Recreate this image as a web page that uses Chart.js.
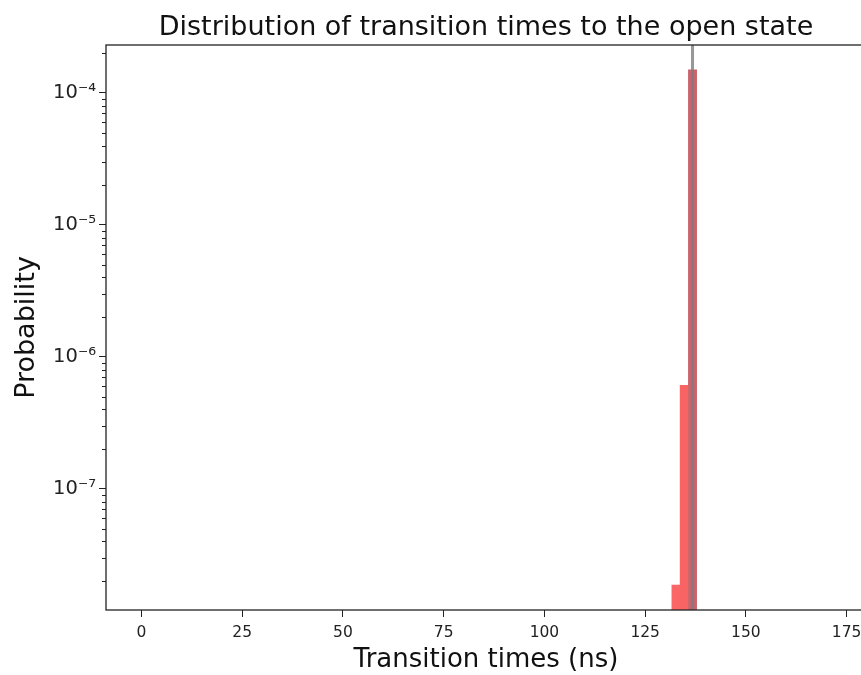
<!DOCTYPE html>
<html>
<head>
<meta charset="utf-8">
<script src="https://cdn.jsdelivr.net/npm/chart.js@4.4.0/dist/chart.umd.min.js"></script>
<style>
html,body{margin:0;padding:0;background:#fff;overflow:hidden;}
#box{width:861px;height:675px;overflow:hidden;}
</style>
</head>
<body>
<div id="box"><canvas id="chart0" width="880" height="675"></canvas></div>
<script>
// 直方图数据：分箱中心(ns)及概率
var binCenters = [132.65, 134.7, 136.75];
var probs = [1.87e-8, 6.1e-7, 1.5e-4];
var barColors = ['#fb6666', '#f86464', '#c9656e'];
var meanTime = 136.75;   // 灰色竖线位置
var xTicks = [0, 25, 50, 75, 100, 125, 150, 175];
var yMajor = [1e-7, 1e-6, 1e-5, 1e-4];
var yTickLabels = ['10⁻⁷', '10⁻⁶', '10⁻⁵', '10⁻⁴'];
var xRange = [-8.8, 179.8];
var yRange = [1.21e-8, 2.31e-4];
var chartTitle = 'Distribution of transition times to the open state';

var FONT = 'DejaVu Sans';

function majorIndex(v){
    for(var i=0;i<yMajor.length;i++){
        if(Math.abs(Math.log10(v) - Math.log10(yMajor[i])) < 1e-6) return i;
    }
    return -1;
}

// y轴刻度：主刻度 + 次刻度(2~9)
function yTickList(){
    var list = [];
    for(var e=-9;e<=-3;e++){
        for(var m=1;m<10;m++){
            var v = m*Math.pow(10,e);
            if(v>=yRange[0] && v<=yRange[1]) list.push(v);
        }
    }
    return list;
}

// 画外框、标题和y轴次刻度
var framePlugin = {
    id: 'frame',
    afterDraw: function(chart){
        var a = chart.chartArea, c = chart.ctx, s = chart.scales.y;
        c.save();
        c.strokeStyle = '#222';
        c.lineWidth = 1.3;
        c.strokeRect(a.left, a.top, a.right - a.left, a.bottom - a.top);
        c.lineWidth = 1;
        s.ticks.forEach(function(t){
            if(majorIndex(t.value) < 0){
                var py = Math.round(s.getPixelForValue(t.value)) + 0.5;
                c.beginPath();
                c.moveTo(a.left, py);
                c.lineTo(a.left - 4, py);
                c.stroke();
            }
        });
        // 标题按绘图区居中
        c.fillStyle = '#111';
        c.font = '27px "' + FONT + '"';
        c.textAlign = 'center';
        c.textBaseline = 'middle';
        c.fillText(chartTitle, (a.left + a.right) / 2, 28);
        c.restore();
    }
};

var barData = binCenters.map(function(x, i){ return {x: x, y: probs[i]}; });

var chart = new Chart(document.getElementById('chart0'), {
    data: {
        datasets: [{
            type: 'line',
            data: [{x: meanTime, y: yRange[0]}, {x: meanTime, y: yRange[1]}],
            borderColor: 'rgba(125,125,125,0.8)',
            borderWidth: 3,
            pointRadius: 0,
            order: 0
        }, {
            type: 'bar',
            data: barData,
            backgroundColor: barColors,
            borderWidth: 0,
            barPercentage: 1,
            categoryPercentage: 1,
            order: 1
        }]
    },
    options: {
        responsive: false,
        animation: false,
        events: [],
        layout: { padding: { left: 0, right: 14, top: 45, bottom: 0 } },
        plugins: {
            legend: { display: false },
            tooltip: { enabled: false },
            title: { display: false }
        },
        scales: {
            x: {
                type: 'linear',
                position: 'bottom',
                offset: false,
                min: xRange[0],
                max: xRange[1],
                afterBuildTicks: function(scale){
                    scale.ticks = xTicks.map(function(v){ return {value: v}; });
                },
                afterFit: function(scale){ scale.height = 65; },
                grid: { offset: false, drawOnChartArea: false, drawTicks: true, tickLength: 7, tickColor: '#222', tickWidth: 1 },
                border: { display: false },
                ticks: {
                    autoSkip: false, maxRotation: 0, padding: 7,
                    color: '#222',
                    font: { family: FONT, size: 15.5 },
                    callback: function(v){ return String(v); }
                },
                title: {
                    display: true,
                    text: 'Transition times (ns)',
                    color: '#111',
                    font: { family: FONT, size: 26, lineHeight: 1.0 },
                    padding: { top: 0, bottom: 2 }
                }
            },
            y: {
                type: 'logarithmic',
                position: 'left',
                min: yRange[0],
                max: yRange[1],
                afterBuildTicks: function(scale){
                    scale.ticks = yTickList().map(function(v){ return {value: v}; });
                },
                afterFit: function(scale){ scale.width = 106; },
                grid: {
                    drawOnChartArea: false, drawTicks: true, tickLength: 7, tickWidth: 1,
                    tickColor: function(ctx){
                        return (ctx.tick && majorIndex(ctx.tick.value) >= 0) ? '#222' : 'rgba(0,0,0,0)';
                    }
                },
                border: { display: false },
                ticks: {
                    autoSkip: false, padding: 3,
                    color: '#222',
                    font: { family: FONT, size: 19.5 },
                    callback: function(v){
                        var i = majorIndex(v);
                        return i >= 0 ? yTickLabels[i] : '';
                    }
                },
                title: {
                    display: true,
                    text: 'Probability',
                    color: '#111',
                    font: { family: FONT, size: 27 },
                    padding: { top: 11, bottom: 0 }
                }
            }
        }
    },
    plugins: [framePlugin]
});
</script>
</body>
</html>
